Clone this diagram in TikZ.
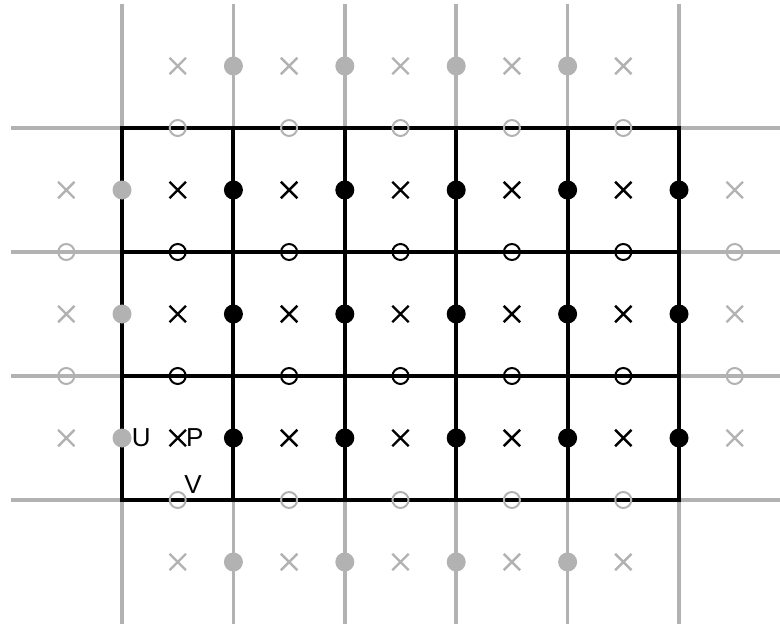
\documentclass[tikz,border=0pt]{standalone}
\usepackage{fontspec}
\setmainfont{Liberation Sans}
\usetikzlibrary{positioning,shapes.misc}

\tikzset{
  ghost/.style={black!30},
  pcell/.style={cross out, draw, line width=2.4pt, minimum size=14pt, inner sep=0pt},
  unode/.style={circle, fill, minimum size=19pt, inner sep=0pt},
  vnode/.style={circle, draw, line width=2pt, minimum size=16pt, inner sep=0pt},
}

\begin{document}
\begin{tikzpicture}[x=111.4pt, y=-124pt, font=\fontsize{26}{31}\selectfont]
  \useasboundingbox (-1.0952,-1.0323) rectangle (5.9066,4.0242);

  % ghost lines outside the domain
  \foreach \i in {0,...,5} {
    \draw[ghost, line width=3.5pt] (\i,-1) -- (\i,0);
    \draw[ghost, line width=3.5pt] (\i,3) -- (\i,4);
  }
  \foreach \j in {0,...,3} {
    \draw[ghost, line width=3.5pt] (-1,\j) -- (0,\j);
    \draw[ghost, line width=3.5pt] (5,\j) -- (5.95,\j);
  }

  % domain grid
  \foreach \i in {1,...,4} \draw[line width=4pt] (\i,0) -- (\i,3);
  \foreach \j in {1,2} \draw[line width=4pt] (0,\j) -- (5,\j);
  \draw[line width=4pt] (0,0) rectangle (5,3);

  % pressure points (cell centres)
  \foreach \i in {1,...,5} {
    \foreach \j in {1,2,3}
      \node[pcell] (p-\i-\j) at (\i-0.5,\j-0.5) {};
    \node[pcell, ghost] (p-\i-0) at (\i-0.5,-0.5) {};
    \node[pcell, ghost] (p-\i-4) at (\i-0.5,3.5) {};
  }
  \foreach \j in {1,2,3} {
    \node[pcell, ghost] (p-0-\j) at (-0.5,\j-0.5) {};
    \node[pcell, ghost] (p-6-\j) at (5.5,\j-0.5) {};
  }

  % u points (vertical faces)
  \foreach \j in {1,2,3} {
    \node[unode, ghost] (u-0-\j) at (0,\j-0.5) {};
    \foreach \i in {1,...,5}
      \node[unode] (u-\i-\j) at (\i,\j-0.5) {};
  }
  \foreach \i in {1,...,4} {
    \node[unode, ghost] (u-\i-0) at (\i,-0.5) {};
    \node[unode, ghost] (u-\i-4) at (\i,3.5) {};
  }

  % v points (horizontal faces)
  \foreach \i in {1,...,5} {
    \node[vnode, ghost] (v-\i-0) at (\i-0.5,0) {};
    \node[vnode] (v-\i-1) at (\i-0.5,1) {};
    \node[vnode] (v-\i-2) at (\i-0.5,2) {};
    \node[vnode, ghost] (v-\i-3) at (\i-0.5,3) {};
  }
  \foreach \j in {1,2} {
    \node[vnode, ghost] (v-0-\j) at (-0.5,\j) {};
    \node[vnode, ghost] (v-6-\j) at (5.5,\j) {};
  }

  % labels
  \node[right=0pt of u-0-3, inner sep=0pt] (ulab) {U};
  \node[right=0pt of p-1-3, inner sep=0pt] (plab) {P};
  \node[anchor=south west, inner sep=0pt] (vlab) at (v-1-3.north east) {V};
\end{tikzpicture}
\end{document}
